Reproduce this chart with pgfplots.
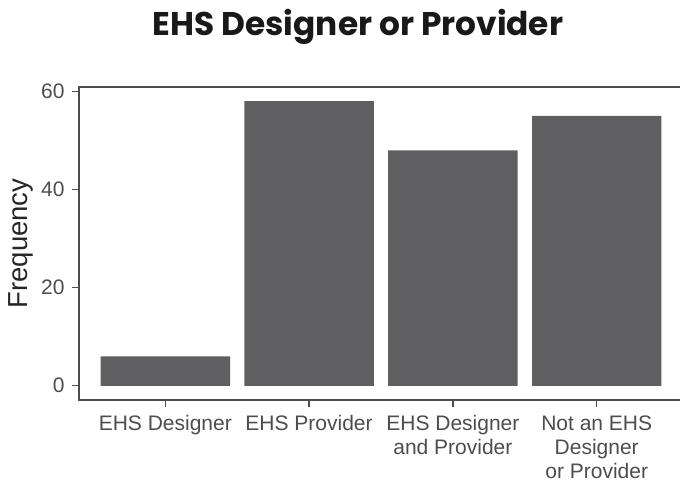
\documentclass[border=0pt]{standalone}
\usepackage{fontspec}
\setmainfont{Liberation Sans}
\newfontfamily\titlefont{Poppins}
\usepackage{pgfplots}
\pgfplotsset{compat=1.18}
\definecolor{barfill}{RGB}{95,95,97}
\definecolor{axisgrey}{RGB}{77,77,77}
\begin{document}
\begin{tikzpicture}
\useasboundingbox (0,0) rectangle (340pt,240pt);
\node[anchor=base, font=\titlefont\bfseries\fontsize{16.4pt}{19pt}\selectfont, text=black!90]
  at (179pt,222pt) {EHS Designer or Provider};
\begin{axis}[
  at={(39.5pt,40pt)}, anchor=south west,
  scale only axis, width=302pt, height=156.5pt,
  ybar, bar width=0.9,
  xmin=0.4, xmax=4.6, ymin=-2.9, ymax=60.9,
  xtick={1,2,3,4},
  xticklabels={EHS Designer, EHS Provider, {EHS Designer\\and Provider}, {Not an EHS\\Designer\\or Provider}},
  ytick={0,20,40,60},
  tick align=outside, major tick length=3.5pt,
  tick style={axisgrey, line width=0.6pt},
  axis line style={axisgrey, line width=0.6pt},
  xtick pos=bottom, ytick pos=left,
  /pgf/number format/assume math mode=true,
  ticklabel style={text=axisgrey, font=\fontsize{10.5pt}{12pt}\selectfont},
  xticklabel style={align=center, inner sep=1pt, yshift=-3pt},
  yticklabel style={inner sep=1pt, xshift=-2.5pt},
]
\addplot[fill=barfill, draw=none] coordinates {
  (1,6) (2,58) (3,48) (4,55)
};
\end{axis}
\node[rotate=90, anchor=center, inner sep=0pt, text=black!85,
  font=\fontsize{13.75pt}{16pt}\selectfont] at (10.4pt,118.25pt) {Frequency};
\end{tikzpicture}
\end{document}
